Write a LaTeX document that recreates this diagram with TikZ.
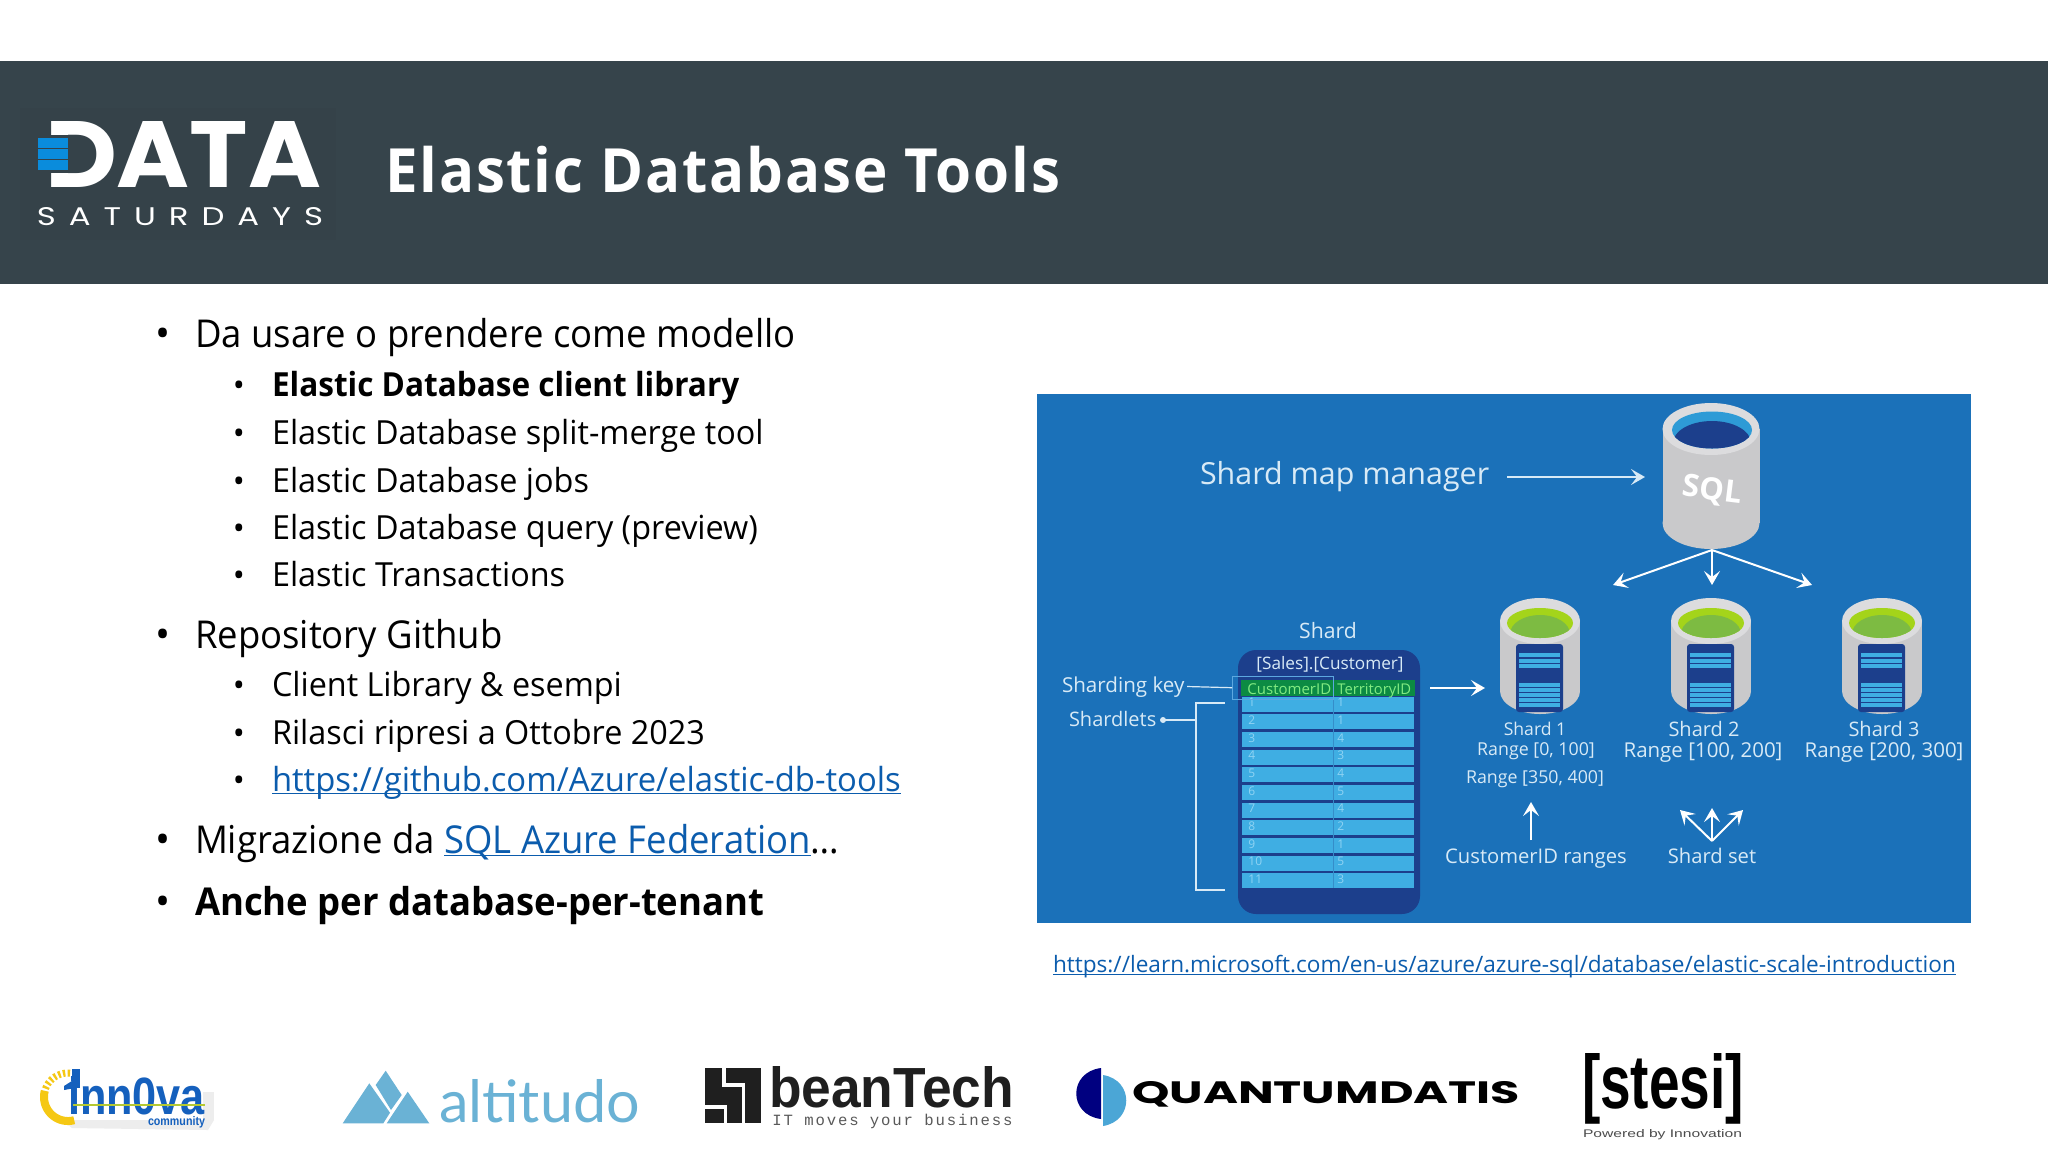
\documentclass[tikz,border=0pt]{standalone}
\usepackage{fontspec}
\usepackage{graphicx}
\usetikzlibrary{arrows.meta}
\setmainfont{Open Sans}
\newfontfamily\titlef[LetterSpace=3,FakeStretch=0.955]{Open Sans}
\newfontfamily\fa[FakeStretch=0.95]{Open Sans}
\newfontfamily\fb[FakeStretch=0.975]{Open Sans}
\newfontfamily\fbb[FakeStretch=0.95]{Open Sans}
\newfontfamily\fl[FakeStretch=0.988]{Open Sans}
\newfontfamily\libsans{Liberation Sans}
\newfontfamily\libmono[LetterSpace=12]{Liberation Mono}
\newfontfamily\latof{Lato}
\newfontfamily\popf{Poppins}
\newfontfamily\popsp[LetterSpace=40]{Poppins}
\newcommand\fs[1]{\fontsize{#1}{#1}\selectfont}
\newcommand\fitbox[3]{\resizebox{\dimexpr#1pt/2\relax}{\dimexpr#2pt/2\relax}{#3}}
\newcommand\ul[1]{\setbox0=\hbox{#1}\rlap{\rule[-1.7pt]{\wd0}{0.6pt}}\box0\relax}
\definecolor{hdr}{HTML}{36444B}
\definecolor{hdrd}{HTML}{354249}
\definecolor{panel}{HTML}{1B71B9}
\definecolor{navy}{HTML}{1C3F8C}
\definecolor{rowb}{HTML}{3FAEE3}
\definecolor{dig}{HTML}{8FD3F3}
\definecolor{lbl}{HTML}{D8EAF6}
\definecolor{linkc}{HTML}{0B5CAD}
\definecolor{cylg}{HTML}{C9C9CB}
\definecolor{cylr}{HTML}{DCDCDE}
\definecolor{lime}{HTML}{A4D41A}
\definecolor{limed}{HTML}{7DBB42}
\definecolor{alt}{HTML}{6AB2D5}
\definecolor{stripe}{HTML}{0A8CDC}
\definecolor{sqlrim}{HTML}{2E9BD6}
\definecolor{hgreen}{HTML}{0C8B43}
\definecolor{htext}{HTML}{82EB82}
\definecolor{keyb}{HTML}{5CA8E0}
\definecolor{innoy}{HTML}{F5C814}
\definecolor{innob}{HTML}{1560BD}
\definecolor{innog}{HTML}{B4C832}
\definecolor{qnavy}{HTML}{000080}
\definecolor{qblue}{HTML}{4BA6D6}
\tikzset{
 x=0.5pt,y=-0.5pt,
 txt/.style={inner sep=0pt,outer sep=0pt,anchor=base west,text=black},
 lvla/.style={txt,font=\fa\fs{19.2}},
 lvlb/.style={txt,font=\fb\fs{16.6}},
 bula/.style={inner sep=0pt,anchor=base,text=black,font=\fs{20}},
 bul/.style={inner sep=0pt,anchor=base,text=black,font=\fs{16}},
 lab/.style={inner sep=0pt,outer sep=0pt,anchor=base,text=lbl},
 conn/.style={draw=lbl,line width=1.1pt,-{Stealth[length=7pt,width=8pt,inset=3pt]}},
 conns/.style={draw=white,line width=1pt,-{Stealth[length=7pt,width=8pt,inset=3pt]}},
 plain/.style={draw=lbl,line width=1pt},
 logo/.style={inner sep=0pt,outer sep=0pt,anchor=south west},
}
% cx rx cy ry sideEnd
\newcommand\dbbody[5]{%
 \fill[cylg] (#1-#2,#3) rectangle (#1+#2,#5);
 \fill[cylg] (#1,#5) ellipse [x radius=#2,y radius=#4];
 \fill[cylr] (#1,#3) ellipse [x radius=#2,y radius=#4];
}
\newcommand\shardcyl[1]{%
 \dbbody{#1}{40}{621}{23}{691}
 \fill[lime] (#1,623) ellipse [x radius=33,y radius=15];
 \begin{scope}
  \clip (#1,623) ellipse [x radius=33,y radius=15];
  \fill[limed] (#1,634) ellipse [x radius=30,y radius=19];
 \end{scope}
 \fill[navy,rounded corners=1.5pt] (#1-24,644) rectangle (#1+23,712);
 \foreach \ry in {653,658.5,664,683,688,693,698,703}{
  \fill[rowb] (#1-21,\ry) rectangle (#1+20,\ry+4);
 }
}
\begin{document}
\begin{tikzpicture}
\useasboundingbox (0,0) rectangle (2048,1152);
\fill[white] (0,0) rectangle (2048,1152);
% header
\fill[hdr] (0,61) rectangle (2048,284);
\fill[hdrd] (20,108) rectangle (336,240);
\node[logo,text=white] (datalogo) at (45,187) {\fitbox{276}{66}{\popf\bfseries DATA}};
\fill[hdrd] (43,135) rectangle (72,173);
\foreach \sy in {138,149,160}{\fill[stripe] (38,\sy) rectangle (68,\sy+10);}
\node[logo,text=white] (satlogo) at (37,226) {\fitbox{286}{18}{\popsp SATURDAYS}};
\node[txt,text=white,font={\titlef\bfseries\fs{30.5}}] (title) at (385,192) {Elastic Database Tools};
% list
\node[bula] (b1) at (163,347) {•};
\node[lvla] (t1) at (195,347) {Da usare o prendere come modello};
\node[bul] (b2) at (239,396) {•};
\node[lvlb,font={\fbb\bfseries\fs{16.6}}] (t2) at (272,396) {Elastic Database client library};
\node[bul] (b3) at (239,444) {•};
\node[lvlb] (t3) at (272,444) {Elastic Database split-merge tool};
\node[bul] (b4) at (239,492) {•};
\node[lvlb] (t4) at (272,492) {Elastic Database jobs};
\node[bul] (b5) at (239,539) {•};
\node[lvlb] (t5) at (272,539) {Elastic Database query (preview)};
\node[bul] (b6) at (239,586) {•};
\node[lvlb] (t6) at (272,586) {Elastic Transactions};
\node[bula] (b7) at (163,648) {•};
\node[lvla] (t7) at (195,648) {Repository Github};
\node[bul] (b8) at (239,696) {•};
\node[lvlb] (t8) at (272,696) {Client Library \& esempi};
\node[bul] (b9) at (239,744) {•};
\node[lvlb] (t9) at (272,744) {Rilasci ripresi a Ottobre 2023};
\node[bul] (b10) at (239,791) {•};
\node[lvlb,text=linkc,font=\fl\fs{16.6}] (t10) at (272,791) {\ul{https://github.com/Azure/elastic-db-tools}};
\node[bula] (b11) at (163,853) {•};
\node[lvla] (t11) at (195,853) {Migrazione da \textcolor{linkc}{\ul{SQL Azure Federation}}…};
\node[bula] (b12) at (163,915) {•};
\node[lvla,font={\fa\bfseries\fs{19.2}}] (t12) at (195,915) {Anche per database-per-tenant};
% panel
\fill[panel] (1037,394) rectangle (1971,923);
\node[lab,anchor=base west,font=\fs{15.2}] (smm) at (1200,484) {Shard map manager};
% master cylinder
\dbbody{1711}{48.5}{429}{26}{523}
\fill[sqlrim] (1712,430) ellipse [x radius=40,y radius=18.5];
\begin{scope}
 \clip (1712,430) ellipse [x radius=40,y radius=18.5];
 \fill[navy] (1712,443) ellipse [x radius=39,y radius=22];
\end{scope}
\node[inner sep=0pt,text=white,rotate=-7,font={\bfseries\fs{15.5}}] (sql) at (1712,491) {SQL};
\coordinate (mc) at (1712,550);
\coordinate (ml) at (1613,585);
\coordinate (mm) at (1712,585);
\coordinate (mr) at (1812,585);
\coordinate (mgr) at (1507,477);
\coordinate (mgrend) at (1645,477);
\draw[conn] (mgr) -- (mgrend);
\draw[conns] (mc) -- (ml);
\draw[conns] (mc) -- (mm);
\draw[conns] (mc) -- (mr);
% shard cylinders
\shardcyl{1540}
\shardcyl{1711}
\shardcyl{1882}
\node[lab,font=\fs{8.8}] (s1) at (1535,735) {Shard 1};
\node[lab,font=\fs{8.9}] (r1) at (1536,755) {Range [0, 100]};
\node[lab,font=\fs{8.9}] (r1b) at (1535,783) {Range [350, 400]};
\node[lab,font=\fs{10}] (s2) at (1704,736) {Shard 2};
\node[lab,font=\fs{10.25}] (r2) at (1703,757) {Range [100, 200]};
\node[lab,font=\fs{10}] (s3) at (1884,736) {Shard 3};
\node[lab,font=\fs{10.25}] (r3) at (1884,757) {Range [200, 300]};
\coordinate (ca) at (1531,840);
\coordinate (cb) at (1531,802);
\draw[conns] (ca) -- (cb);
\node[lab,font=\fs{10.1}] (cid) at (1536,863) {CustomerID ranges};
\coordinate (so) at (1712,841);
\coordinate (sa) at (1680,810);
\coordinate (sb) at (1712,808);
\coordinate (sc) at (1743,810);
\draw[conns] (so) -- (sa);
\draw[conns] (so) -- (sb);
\draw[conns] (so) -- (sc);
\node[lab,font=\fs{10.1}] (sset) at (1712,863) {Shard set};
% shard table
\node[lab,font=\fs{10.6}] (shard) at (1328,638) {Shard};
\fill[navy,rounded corners=9pt] (1238,650) rectangle (1420,914);
\node[lab,font=\fs{8.6}] (sales) at (1330,669) {[Sales].[Customer]};
\fill[hgreen] (1241,680) rectangle (1415,696);
\foreach \i/\a/\b in {1/1/1,2/2/1,3/3/4,4/4/3,5/5/4,6/6/5,7/7/4,8/8/2,9/9/1,10/10/5,11/11/3}{
 \pgfmathsetmacro\ry{696.7+(\i-1)*17.67}
 \fill[rowb] (1242,\ry) rectangle (1414,\ry+15);
 \node[inner sep=0pt,anchor=base west,text=dig,font=\fs{6}] (ka\i) at (1248,\ry+10) {\a};
 \node[inner sep=0pt,anchor=base west,text=dig,font=\fs{6}] (kb\i) at (1337,\ry+10) {\b};
}
\draw[rowb!70!navy,line width=0.5pt] (1333,697) -- (1333,888);
\node[inner sep=0pt,anchor=base west,text=htext,font=\fs{7.5}] (cust) at (1247,694) {CustomerID};
\node[inner sep=0pt,anchor=base west,text=htext,font=\fs{7.4}] (terr) at (1337,694) {TerritoryID};
\node[draw=keyb,line width=0.7pt,inner sep=0pt,minimum width=50.5pt,minimum height=11.5pt,anchor=north west] (keybox) at (1232,675.5) {};
\node[lab,anchor=base west,font=\fs{10.3}] (skey) at (1062,692) {Sharding key};
\coordinate (skeyend) at (1187,686.5);
\draw[plain,line width=0.6pt] (skeyend) -- (keybox.west);
\node[lab,anchor=base west,font=\fs{10}] (slets) at (1069,726) {Shardlets};
\fill[lbl] (1163,720) circle (3);
\coordinate (dotp) at (1163,720);
\coordinate (brm) at (1196,720);
\coordinate (brt) at (1225,703);
\coordinate (brb) at (1225,890);
\draw[plain] (dotp) -- (brm);
\draw[plain] (brt) -- (1196,703) -- (1196,890) -- (brb);
\coordinate (ta) at (1430,688);
\coordinate (tb) at (1485,688);
\draw[conns] (ta) -- (tb);
% url
\node[txt,text=linkc,font=\fs{11.3}] (url) at (1053,972) {\ul{https://learn.microsoft.com/en-us/azure/azure-sql/database/elastic-scale-introduction}};
% logos: inn0va
\fill[black!7] (203,1092) rectangle (214,1120);
\fill[black!7] (62,1120) -- (214,1120) -- (208,1130) -- (72,1128) -- cycle;
\draw[innoy,line width=4pt] plot[domain=165:285,samples=30] ({68+24*cos(\x)},{1097-24*sin(\x)});
\draw[innoy,line width=3.5pt,dash pattern=on 1.2pt off 1.2pt] plot[domain=85:165,samples=30] ({68+24*cos(\x)},{1097-24*sin(\x)});
\node[logo,text=innob] (inn) at (68,1115) {\fitbox{137}{38}{\libsans\bfseries inn0va}};
\fill[innob] (72,1069) rectangle (80,1088);
\fill[innob] (64,1086) -- (75,1079) -- (75,1088) -- (64,1090) -- cycle;
\fill[innog] (73,1104) rectangle (205,1106);
\node[logo,text=innob] (comm) at (148,1128) {\fitbox{57}{9}{\libsans\bfseries community}};
% altitudo
\fill[alt] (369.3,1083.3) -- (342.7,1123.3) -- (383.3,1123.3) -- (390,1112.7) -- cycle;
\fill[alt] (385.7,1070.7) -- (401.7,1095) -- (391,1110) -- (375.7,1085) -- cycle;
\fill[alt] (407.7,1091.7) -- (386.7,1123.3) -- (429.3,1123.3) -- cycle;
\node[logo,text=alt] (altt) at (439,1123) {\fitbox{201}{43}{\latof altitudo}};
% beanTech
\fill[black!88] (705,1067.7) rectangle (761,1123.3);
\coordinate (bi1) at (724,1067.7);
\coordinate (bi2) at (743.5,1123.3);
\coordinate (bi3) at (705,1107);
\coordinate (bi4) at (725.5,1123.3);
\draw[white,line width=1.75pt] (bi1) -- (724,1085) -- (743.5,1085) -- (bi2);
\draw[white,line width=1.75pt] (bi3) -- (725.5,1107) -- (bi4);
\node[logo,text=black!88] (bean) at (769,1108) {\fitbox{245}{41}{\libsans\bfseries beanTech}};
\node[inner sep=0pt,anchor=base west,text=black!65] (beansub) at (772,1125) {\resizebox{120pt}{!}{\libmono IT moves your business}};
% quantumdatis
\fill[qnavy] (1101,1068) .. controls (1068,1072) and (1068,1115) .. (1101,1119) -- cycle;
\fill[qblue] (1103,1075) .. controls (1134,1080) and (1134,1121) .. (1103,1126) -- cycle;
\node[logo,text=black] (qd) at (1132,1107) {\fitbox{388}{22}{\popf\bfseries QUANTUMDATIS}};
% stesi
\node[logo,text=black] (stesi) at (1582,1124) {\fitbox{162}{55}{\libsans\bfseries [stesi]}};
\node[logo,text=black!70] (stesis) at (1583,1140) {\fitbox{159}{8}{\libsans Powered by Innovation}};
\end{tikzpicture}
\end{document}
